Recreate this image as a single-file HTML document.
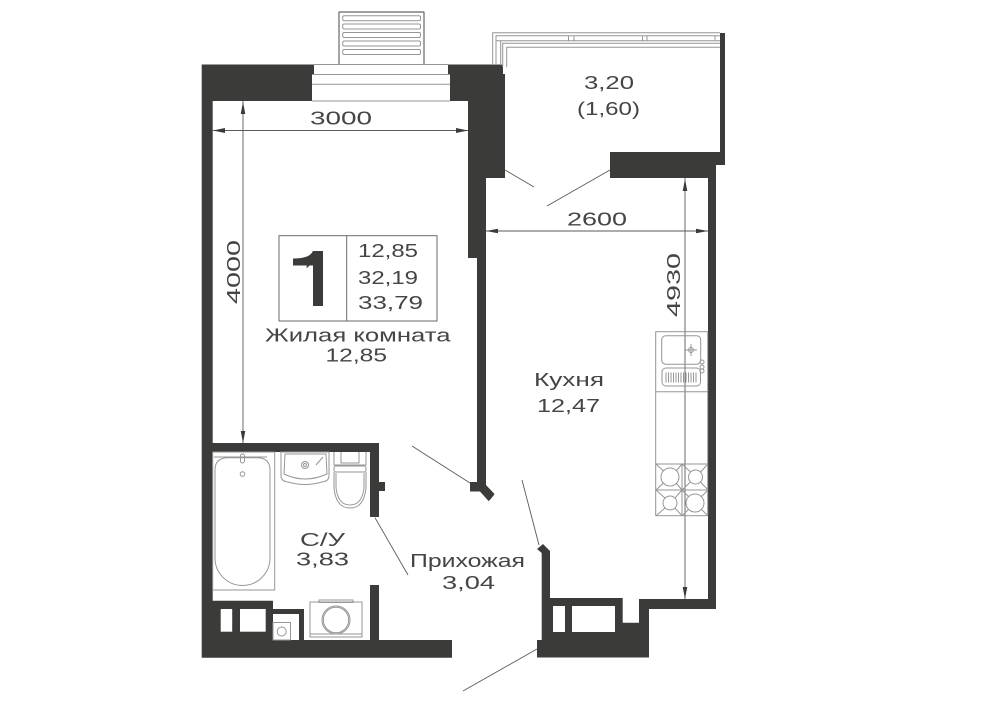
<!DOCTYPE html>
<html><head><meta charset="utf-8"><style>
html,body{margin:0;padding:0;background:#fff}
svg{display:block}
text{font-family:"Liberation Sans","DejaVu Sans",sans-serif;fill:#454543;font-size:18px}
.w{fill:#3b3b39;stroke:none}
.l{fill:none;stroke:#5a5a58;stroke-width:.9}
.f{fill:none;stroke:#969694;stroke-width:1}
.a{fill:#3b3b39;stroke:none}
</style></head><body>
<svg width="1000" height="707" viewBox="0 0 1000 707" xmlns="http://www.w3.org/2000/svg">
<rect width="1000" height="707" fill="#fff"/>

<!-- left room walls -->
<path class="w" d="M201.7 64.5H314V74H312V101H212.7V443H379V517H370V452H212.7V600.7H273V609H304V640H370V585H379V640H452V657.7H201.7Z"/>
<rect class="w" x="379" y="482" width="6" height="9"/>
<rect x="220.7" y="609" width="11.5" height="22.7" fill="#fff"/>
<rect x="240" y="609" width="25.7" height="22.7" fill="#fff"/>
<path d="M273 614H299V640H273Z" fill="#fff"/>
<!-- right wall of room -->
<path class="w" d="M448 64.5H503V74H505V178H486V482H470V490.6H481L489 501L494 495L477 482V258H468V101H450V74H448Z"/>
<path class="w" d="M477 481H486V485L494.5 494L488.5 501L480 491.5H470V482H477Z"/>
<!-- balcony -->
<path class="w" d="M720 33H725V165H716V178H610V152H720Z"/>
<!-- kitchen walls -->
<path class="w" d="M708 170H716V609H649V657.5H537V640H541.7V553L537 549L543 544L550 551V598H622.7V622.7H639V599H708Z"/>
<rect x="553" y="606" width="12" height="26" fill="#fff"/>
<rect x="572" y="606" width="43" height="26" fill="#fff"/>

<!-- balcony exit top -->
<path class="f" d="M339 64V12H424V64"/>
<path d="M339 12V64M424 12V64M339 12H424" fill="none" stroke="#666" stroke-width="1.2"/>
<g class="f">
<rect x="342.7" y="15.7" width="77.8" height="5" rx="1.5"/>
<rect x="342.7" y="24" width="77.8" height="5" rx="1.5"/>
<rect x="342.7" y="32.5" width="77.8" height="5" rx="1.5"/>
<rect x="342.7" y="41" width="77.8" height="5" rx="1.5"/>
<rect x="342.7" y="49.5" width="77.8" height="5" rx="1.5"/>
</g>
<path class="f" d="M314 64.5H448M312 74.5H450M312 84.3H450M312 101H450"/>

<!-- balcony frame -->
<g class="f">
<path d="M492.7 64V32.7H720"/>
<path d="M496 64V35.7H720"/>
<path d="M500.7 64V40.7H720"/>
<path d="M502.7 67V43.3H720"/>
<path d="M506.7 67V47.3H720"/>
<path d="M496 40.7H500.7M568.5 35.7V40.7M574 35.7V40.7M642.5 35.7V40.7M647 35.7V40.7M715 35.7V40.7"/>
</g>

<!-- door lines -->
<g class="l">
<path d="M505 170L534 187"/>
<path d="M610 170L547 206"/>
<path d="M412 446L470 483"/>
<path d="M522 480L539 545"/>
<path d="M537 649L463 691"/>
<path d="M375 517.7L408 575"/>
</g>

<!-- dimensions -->
<g class="l">
<path d="M213 130.5H468"/>
<path d="M243 101V443"/>
<path d="M486 231H708"/>
<path d="M685 178V599"/>
</g>
<path class="a" d="M213 130.5L225 128V133Z M468 130.5L456 128V133Z M243 102L240.7 114H245.3Z M243 443L240.7 431H245.3Z M486 231L498 228.7V233.3Z M708 231L696 228.7V233.3Z M685 179L682.7 191H687.3Z M685 599L682.7 587H687.3Z"/>

<!-- bath -->
<g class="f">
<rect x="212.7" y="452" width="62" height="138"/>
<path d="M214 457H267"/>
<path d="M215 470Q215 457.7 228 457.7H257Q270 457.7 270 470V558A27.5 27.5 0 0 1 215 558Z"/>
<circle cx="242.5" cy="474" r="2.3"/>
<rect x="240.5" y="454" width="4" height="9" rx="2"/>
</g>
<!-- sink -->
<g class="f">
<path d="M281 452H329V476Q329 481 322 482Q305 487 288 482Q281 481 281 476Z"/>
<path d="M285 454H326L327 474Q305 484 284 474Z"/>
<circle cx="305" cy="465" r="3.5"/>
<circle cx="305" cy="465" r="1.5"/>
<path d="M316 465L323 457"/>
</g>
<!-- toilet -->
<g class="f">
<path d="M334 452V465H366V452"/>
<path d="M341 452V463H359V452"/>
<rect x="334" y="466" width="32" height="6" rx="2"/>
<path d="M334 472V488Q336 508 350 508Q364 508 366 488V472"/>
<path d="M336 473V488Q338 505 350 505Q362 505 364 488V473"/>
</g>
<!-- shaft and washer -->
<g class="f">
<rect x="273" y="622.5" width="17.5" height="17.5"/>
<circle cx="281.7" cy="631.5" r="4.5"/>
<rect x="310" y="602" width="52" height="35"/>
<rect x="319" y="600" width="34" height="2.5"/>
<path d="M310 634H362"/>
<circle cx="336" cy="620" r="14"/>
<circle cx="336" cy="620" r="12.7"/>
</g>

<!-- kitchen -->
<g class="f">
<rect x="655.7" y="331.7" width="52" height="184"/>
<path d="M655.7 391.7H707.7M655.7 464H707.7"/>
<rect x="661.7" y="335.7" width="39" height="28.5" rx="4"/>
<rect x="662" y="368" width="38.5" height="18" rx="4"/>
<circle cx="702" cy="362" r="2"/>
<circle cx="702" cy="367" r="2"/>
<circle cx="702" cy="371" r="2"/>
<circle cx="691" cy="350" r="2.5"/>
<path d="M685 350H697M691 344V356"/>
<path d="M666 372.5V382.5M668.5 372.5V382.5M671 372.5V382.5M673.5 372.5V382.5M676 372.5V382.5M678.5 372.5V382.5M681 372.5V382.5M683.5 372.5V382.5M686 372.5V382.5M688.5 372.5V382.5M691 372.5V382.5M693.5 372.5V382.5M696 372.5V382.5"/>
<path d="M682 464V515.7M656 490H708"/>
<circle cx="670" cy="477" r="9"/>
<circle cx="695.5" cy="477" r="7"/>
<circle cx="670" cy="503" r="7"/>
<circle cx="695" cy="503" r="9"/>
<path d="M656 464L663.5 471M682 464L676.5 470.5M682 490L676.5 483.5M656 490L663.5 483M682 464L690.5 472M708 464L700.5 472M682 490L690.5 482M708 490L700.5 482M656 490L665 498M682 490L675 498M656 515.7L665 508M682 515.7L675 508M682 490L688.5 496.5M708 490L701.5 496.5M682 515.7L688.5 509.5M708 515.7L701.5 509.5"/>
</g>

<!-- info box -->
<g fill="none" stroke="#6a6a68" stroke-width="1">
<rect x="279" y="235.7" width="158" height="85.3"/>
<path d="M346.7 235.7V321"/>
</g>
<clipPath id="c1"><rect x="293" y="251" width="30" height="49"/></clipPath>
<text x="301.5" y="306" textLength="30" lengthAdjust="spacingAndGlyphs" style="font-size:76px" clip-path="url(#c1)">1</text>
<path class="w" d="M313 251H323V306H313V265.5H293V258.5Q310 258.5 313 251Z"/>

<!-- labels -->
<text x="310" y="124.5" textLength="62" lengthAdjust="spacingAndGlyphs">3000</text>
<text x="584" y="89" textLength="50" lengthAdjust="spacingAndGlyphs">3,20</text>
<text x="577" y="115" textLength="63" lengthAdjust="spacingAndGlyphs">(1,60)</text>
<text x="567" y="225.7" textLength="60" lengthAdjust="spacingAndGlyphs">2600</text>
<text transform="translate(240 304) rotate(-90)" textLength="64" lengthAdjust="spacingAndGlyphs">4000</text>
<text transform="translate(680 317) rotate(-90)" textLength="64" lengthAdjust="spacingAndGlyphs">4930</text>
<text x="358" y="257" textLength="60" lengthAdjust="spacingAndGlyphs">12,85</text>
<text x="358" y="284" textLength="60" lengthAdjust="spacingAndGlyphs">32,19</text>
<text x="358" y="309" textLength="65" lengthAdjust="spacingAndGlyphs">33,79</text>
<text x="265" y="341.5" textLength="185.5" lengthAdjust="spacingAndGlyphs">Жилая комната</text>
<text x="325.5" y="361.7" textLength="61.5" lengthAdjust="spacingAndGlyphs">12,85</text>
<text x="534" y="386" textLength="70" lengthAdjust="spacingAndGlyphs">Кухня</text>
<text x="537" y="412" textLength="63" lengthAdjust="spacingAndGlyphs">12,47</text>
<text x="300" y="546" textLength="45" lengthAdjust="spacingAndGlyphs">С/У</text>
<text x="296" y="565.7" textLength="53" lengthAdjust="spacingAndGlyphs">3,83</text>
<text x="410" y="567" textLength="115" lengthAdjust="spacingAndGlyphs">Прихожая</text>
<text x="442" y="589" textLength="53" lengthAdjust="spacingAndGlyphs">3,04</text>
</svg>
</body></html>
